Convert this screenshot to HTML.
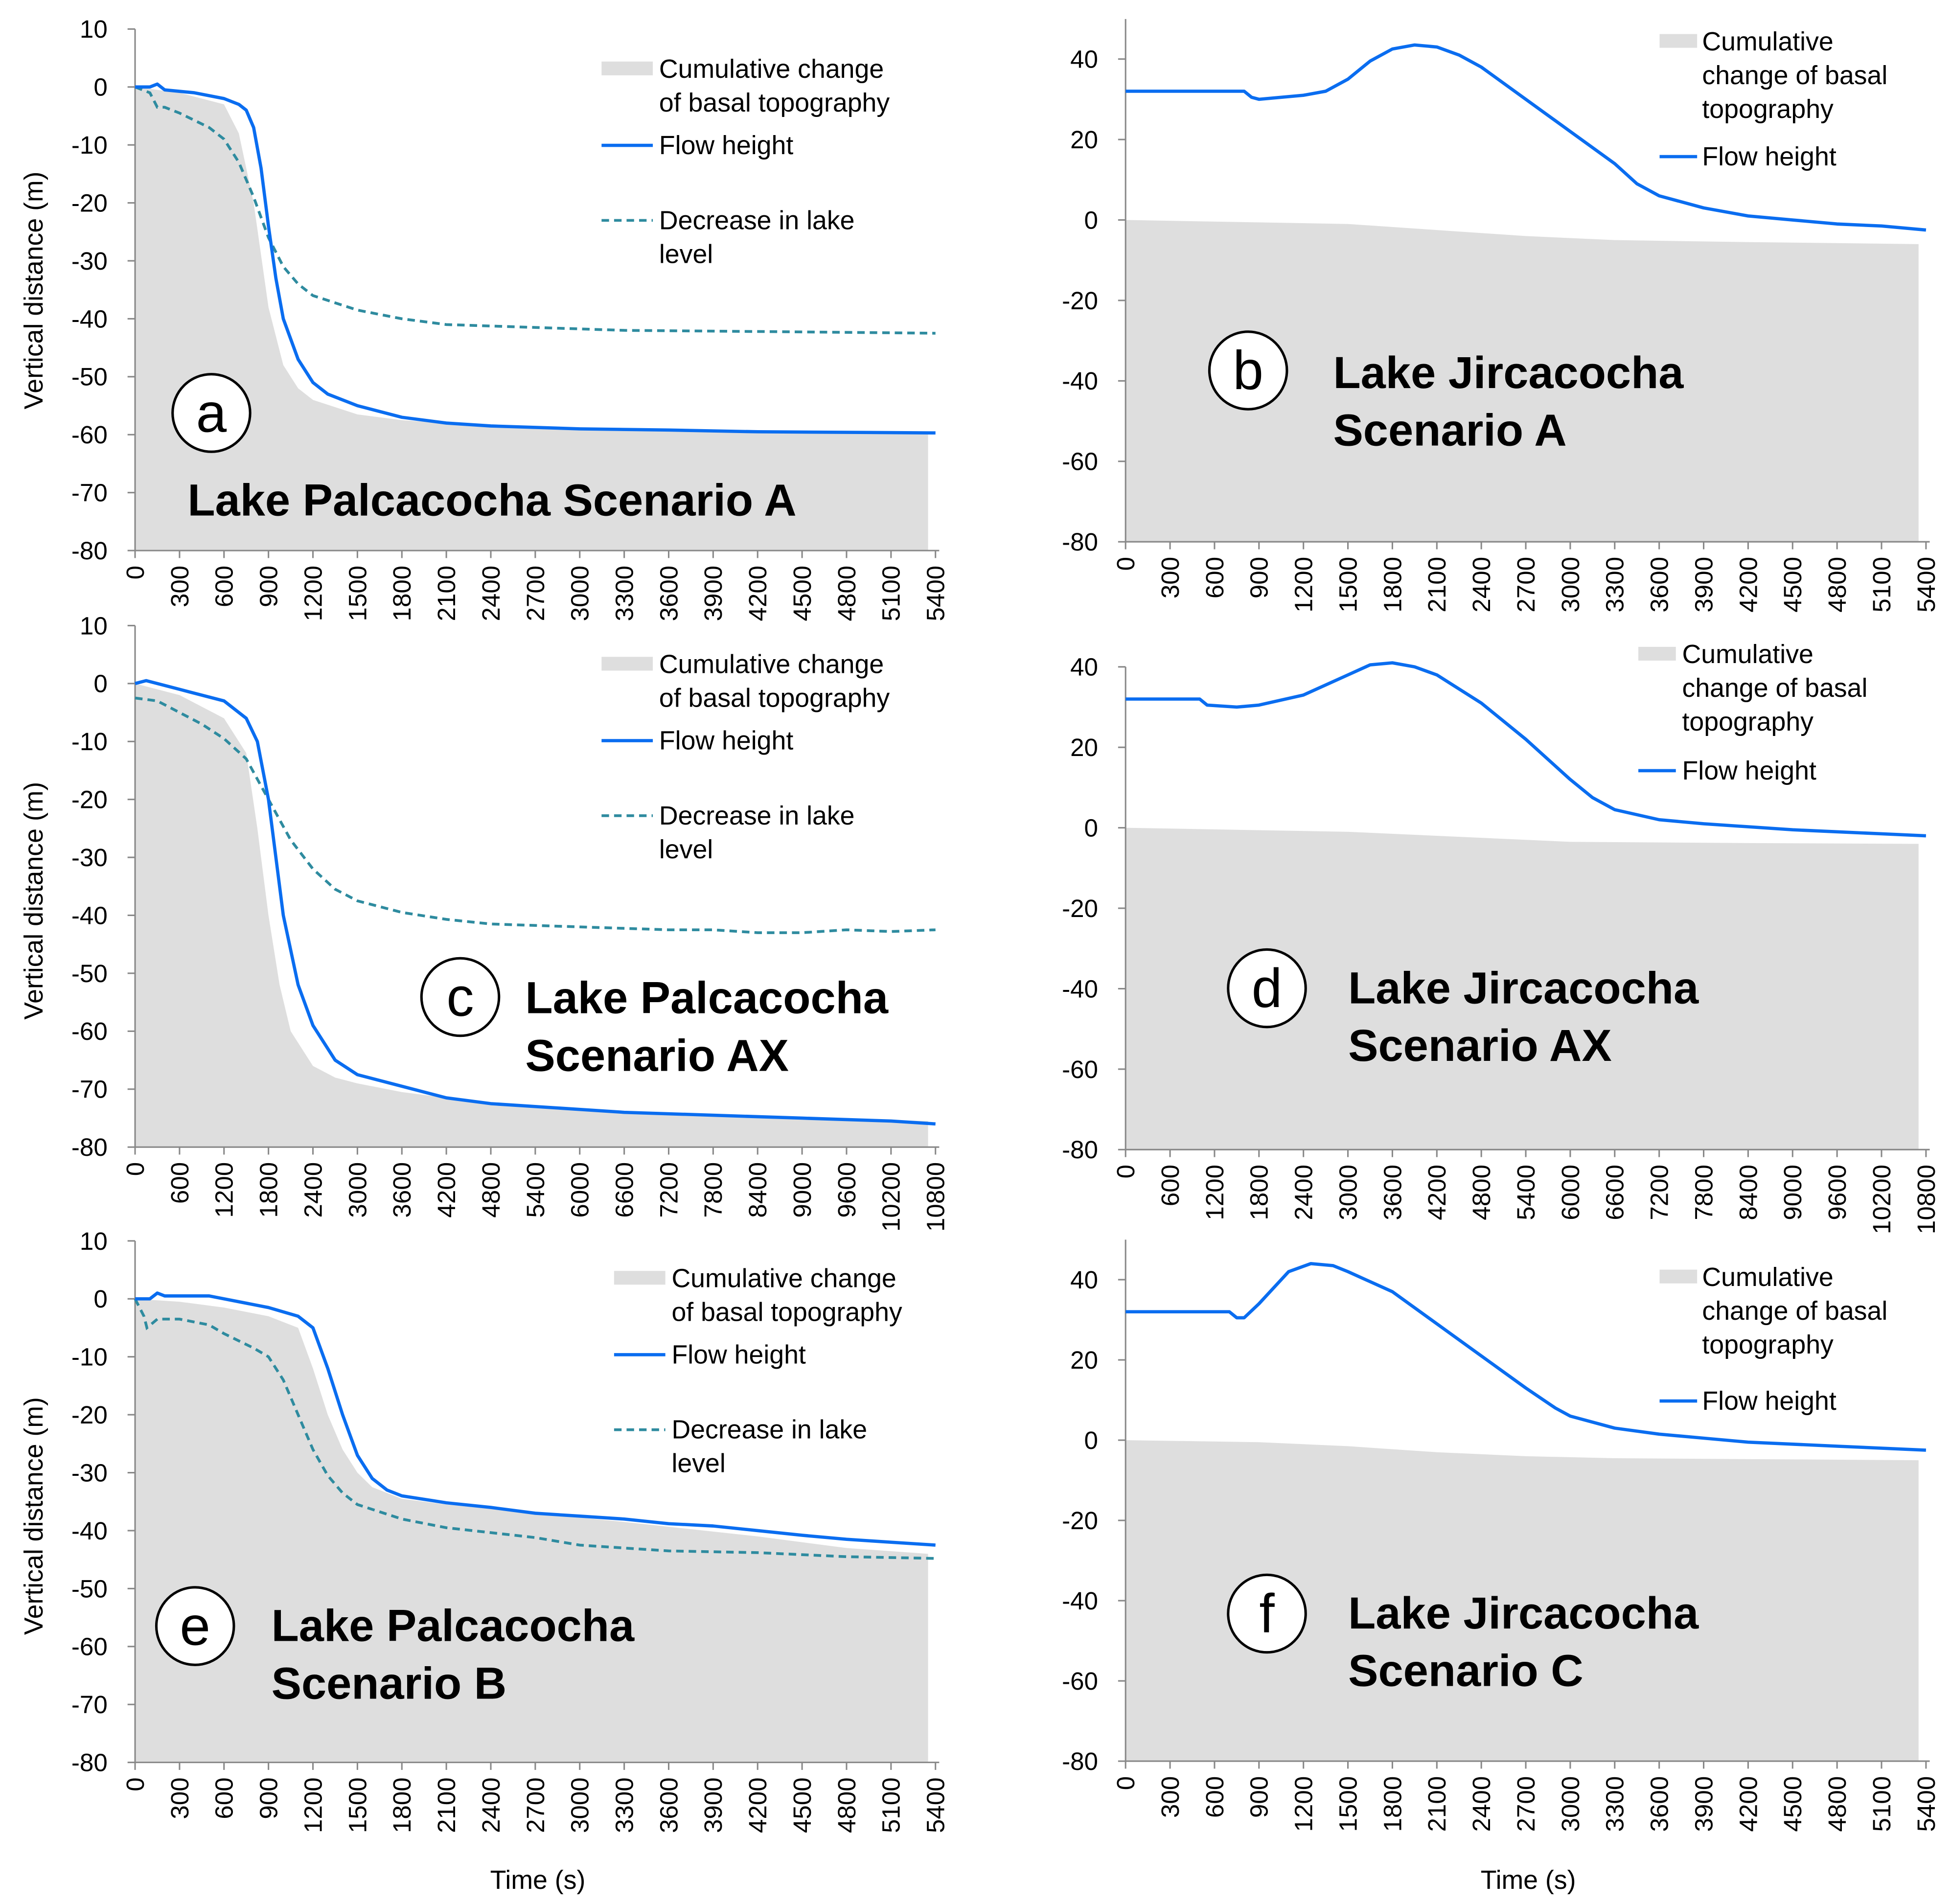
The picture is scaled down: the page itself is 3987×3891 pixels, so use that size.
<!DOCTYPE html>
<html><head><meta charset="utf-8"><style>
html,body{margin:0;padding:0;background:#fff;}
svg{display:block;}
text{font-family:"Liberation Sans",Arial,sans-serif;fill:#000;}
</style></head><body>
<svg id="fig" width="3987" height="3891" viewBox="0 0 1560 1522" xmlns="http://www.w3.org/2000/svg"></svg>
<script>
// ---- Data (time in s, values in m) ----
const aBasalT=[0,300,600,700,800,900,1000,1100,1200,1500,1800,2400,3000,4000,5350];
const aBasalV=[0,-1,-3,-8,-20,-38,-48,-52,-54,-56.5,-57.5,-58.5,-59,-59.5,-59.8];
const aFlowT=[0,100,150,200,400,600,700,750,800,850,900,950,1000,1100,1200,1300,1500,1800,2100,2400,3000,3600,4200,5400];
const aFlowV=[0,0,0.5,-0.5,-1,-2,-3,-4,-7,-14,-24,-33,-40,-47,-51,-53,-55,-57,-58,-58.5,-59,-59.2,-59.5,-59.7];
const aLakeT=[0,100,150,200,300,500,600,700,800,900,1000,1100,1200,1500,1800,2100,2700,3300,4200,5400];
const aLakeV=[0,-1,-3.5,-3.5,-4.5,-7,-9,-13,-19,-26,-31,-34,-36,-38.5,-40,-41,-41.5,-42,-42.2,-42.5];

const bBasalT=[0,1500,2100,2700,3300,4200,5350];
const bBasalV=[0,-1,-2.5,-4,-5,-5.5,-6];
const bFlowT=[0,800,850,900,1200,1350,1500,1650,1800,1950,2100,2250,2400,2700,3000,3300,3450,3600,3900,4200,4500,4800,5100,5400];
const bFlowV=[32,32,30.5,30,31,32,35,39.5,42.5,43.5,43,41,38,30,22,14,9,6,3,1,0,-1,-1.5,-2.5];

const cBasalT=[0,600,1200,1500,1650,1800,1950,2100,2400,2700,3000,3600,4800,6000,7200,9000,10700];
const cBasalV=[0,-2,-6,-12,-25,-40,-52,-60,-66,-68,-69,-70.5,-72.5,-73.5,-74.5,-75,-75.5];
const cFlowT=[0,150,600,1200,1500,1650,1800,1900,2000,2200,2400,2700,3000,3600,4200,4800,5400,6600,7800,9000,10200,10800];
const cFlowV=[0,0.5,-1,-3,-6,-10,-20,-30,-40,-52,-59,-65,-67.5,-69.5,-71.5,-72.5,-73,-74,-74.5,-75,-75.5,-76];
const cLakeT=[0,300,600,900,1200,1500,1800,2100,2400,2700,3000,3600,4200,4800,6000,7200,7800,8400,9000,9600,10200,10800];
const cLakeV=[-2.5,-3,-5,-7,-9.5,-13,-20,-27,-32,-35.5,-37.5,-39.5,-40.7,-41.5,-42,-42.5,-42.5,-43,-43,-42.5,-42.8,-42.5];

const dBasalT=[0,3000,4800,6000,8400,10700];
const dBasalV=[0,-1,-2.5,-3.5,-3.8,-4];
const dFlowT=[0,1000,1100,1500,1800,2400,3000,3300,3600,3900,4200,4800,5400,6000,6300,6600,7200,7800,9000,10200,10800];
const dFlowV=[32,32,30.5,30,30.5,33,38,40.5,41,40,38,31,22,12,7.5,4.5,2,1,-0.5,-1.5,-2];

const eBasalT=[0,300,600,900,1100,1200,1300,1400,1500,1600,1800,2100,2700,3300,4200,4800,5350];
const eBasalV=[0,-0.5,-1.5,-3,-5,-12,-20,-26,-30,-32.5,-34.5,-35.5,-37,-38.5,-41,-43,-44];
const eFlowT=[0,100,150,200,500,900,1100,1200,1300,1400,1500,1600,1700,1800,2100,2400,2700,3000,3300,3600,3900,4200,4500,4800,5100,5400];
const eFlowV=[0,0,1,0.5,0.5,-1.5,-3,-5,-12,-20,-27,-31,-33,-34,-35.2,-36,-37,-37.5,-38,-38.8,-39.2,-40,-40.8,-41.5,-42,-42.5];
const eLakeT=[0,60,80,150,300,500,600,800,900,1000,1100,1200,1300,1400,1500,1800,2100,2700,3000,3600,4200,4800,5400];
const eLakeV=[0,-3,-5,-3.5,-3.5,-4.5,-6,-8.5,-10,-14,-20,-26,-30.5,-33.5,-35.5,-38,-39.5,-41.2,-42.5,-43.5,-43.8,-44.5,-44.8];

const fBasalT=[0,900,1500,2100,2700,3300,5350];
const fBasalV=[0,-0.5,-1.5,-3,-4,-4.5,-5];
const fFlowT=[0,700,750,800,900,1000,1100,1250,1400,1500,1800,2100,2400,2700,2900,3000,3300,3600,3900,4200,4800,5400];
const fFlowV=[32,32,30.5,30.5,34,38,42,44,43.5,42,37,29,21,13,8,6,3,1.5,0.5,-0.5,-1.5,-2.5];

const yTicksLeft=[10,0,-10,-20,-30,-40,-50,-60,-70,-80];
const yTicksRight=[40,20,0,-20,-40,-60,-80];
const xTicks5400=[0,300,600,900,1200,1500,1800,2100,2400,2700,3000,3300,3600,3900,4200,4500,4800,5100,5400];
const xTicks10800=[0,600,1200,1800,2400,3000,3600,4200,4800,5400,6000,6600,7200,7800,8400,9000,9600,10200,10800];

const NS="http://www.w3.org/2000/svg";
const svg=document.getElementById('fig');
function mk(tag,attrs,parent){const e=document.createElementNS(NS,tag);for(const k in attrs)e.setAttribute(k,attrs[k]);(parent||svg).appendChild(e);return e;}

function panel(p){
  const g=mk('g',{});
  
  
  const sx=t=>p.x0+(t/p.xmax)*(p.x1-p.x0);
  const sy=v=>p.y0+(p.ymax-v)/(p.ymax-p.ymin)*(p.y1-p.y0);
  let d='M'+sx(p.bT[0])+','+sy(0);
  p.bT.forEach((t,i)=>{d+=' L'+sx(t)+','+sy(p.bV[i]);});
  d+=' L'+sx(p.bT[p.bT.length-1])+','+sy(p.ymin)+' L'+sx(p.bT[0])+','+sy(p.ymin)+'Z';
  const area=mk('path',{d:d,fill:'#dedede'},g);
  
  
  const ya=mk('line',{x1:p.x0,y1:p.y0-(p.ytop||0),x2:p.x0,y2:p.y1,stroke:'#888','stroke-width':1.2},g);
  
  
  const xa=mk('line',{x1:p.x0,y1:p.y1,x2:p.x1+3,y2:p.y1,stroke:'#888','stroke-width':1.2},g);
  
  
  p.yt.forEach(v=>{
    mk('line',{x1:p.x0-6,y1:sy(v),x2:p.x0,y2:sy(v),stroke:'#888','stroke-width':1.2},g);
    const t=mk('text',{x:p.x0-22,y:sy(v)+7,'text-anchor':'end','font-size':20},g);
    t.textContent=v;
    
    
  });
  p.xt.forEach(v=>{
    mk('line',{x1:sx(v),y1:p.y1,x2:sx(v),y2:p.y1+6,stroke:'#888','stroke-width':1.2},g);
    const t=mk('text',{x:0,y:0,'text-anchor':'end','font-size':20,transform:'translate('+(sx(v)+7)+','+(p.y1+12)+') rotate(-90)'},g);
    t.textContent=v;
    
    
  });
  if(p.lT){
    const pts=p.lT.map((t,i)=>sx(t)+','+sy(p.lV[i])).join(' ');
    const l=mk('polyline',{points:pts,fill:'none',stroke:'#2e8b9f','stroke-width':2.2,'stroke-dasharray':'6,4'},g);
    
    
  }
  const pts=p.fT.map((t,i)=>sx(t)+','+sy(p.fV[i])).join(' ');
  const f=mk('polyline',{points:pts,fill:'none',stroke:'#0a6df0','stroke-width':2.6,'stroke-linejoin':'round'},g);
  
  
  const L=p.leg;
  const r=mk('rect',{x:L.x,y:L.lines[0]-6,width:L.w,height:11,fill:'#dedede'},g);
  
  
  L.lines.forEach((yy,i)=>{const t=mk('text',{x:L.tx,y:yy+7,'font-size':21},g);t.textContent=L.txt[i];
    
    });
  mk('line',{x1:L.x,y1:L.fy,x2:L.x+L.w,y2:L.fy,stroke:'#0a6df0','stroke-width':2.6},g);
  const ft=mk('text',{x:L.tx,y:L.fy+7,'font-size':21},g);ft.textContent='Flow height';
  
  
  if(L.ly){
    mk('line',{x1:L.x,y1:L.ly,x2:L.x+L.w,y2:L.ly,stroke:'#2e8b9f','stroke-width':2.2,'stroke-dasharray':'6,4'},g);
    const a=mk('text',{x:L.tx,y:L.ly+7,'font-size':21},g);a.textContent='Decrease in lake';
    
    
    const b=mk('text',{x:L.tx,y:L.ly+34,'font-size':21},g);b.textContent='level';
    
    
  }
  const c=mk('circle',{cx:p.cx,cy:p.cy,r:31,fill:'#fff',stroke:'#000','stroke-width':2},g);
  
  
  const ct=mk('text',{x:p.cx,y:p.cy+15,'text-anchor':'middle','font-size':44},g);ct.textContent=p.id;
  
  
  p.title.forEach((s,i)=>{const t=mk('text',{x:p.tx,y:p.ty+i*46+12,'font-size':36,'font-weight':'bold'},g);t.textContent=s;
    
    });
}

const legL=(x0,y)=>({x:x0,w:41,tx:x0+46,lines:[y,y+27],txt:['Cumulative change','of basal topography'],fy:y+61,ly:y+121});
const legR=(x0,tx,y,fy)=>({x:x0,w:30,tx:tx,lines:[y,y+27,y+54],txt:['Cumulative','change of basal','topography'],fy:fy});

panel({id:'a',x0:108,x1:748,xmax:5400,y0:23,y1:440,ymax:10,ymin:-80,yt:yTicksLeft,xt:xTicks5400,
  bT:aBasalT,bV:aBasalV,fT:aFlowT,fV:aFlowV,lT:aLakeT,lV:aLakeV,leg:legL(481,55),cx:169,cy:330,
  title:['Lake Palcacocha  Scenario A'],tx:150,ty:400});
panel({id:'b',x0:900,x1:1540,xmax:5400,y0:47,y1:433,ymax:40,ymin:-80,ytop:32,yt:yTicksRight,xt:xTicks5400,
  bT:bBasalT,bV:bBasalV,fT:bFlowT,fV:bFlowV,leg:legR(1327,1361,33,125),cx:998,cy:296,
  title:['Lake Jircacocha','Scenario A'],tx:1066,ty:298});
panel({id:'c',x0:108,x1:748,xmax:10800,y0:500,y1:917,ymax:10,ymin:-80,yt:yTicksLeft,xt:xTicks10800,
  bT:cBasalT,bV:cBasalV,fT:cFlowT,fV:cFlowV,lT:cLakeT,lV:cLakeV,leg:legL(481,531),cx:368,cy:797,
  title:['Lake Palcacocha','Scenario AX'],tx:420,ty:798});
panel({id:'d',x0:900,x1:1540,xmax:10800,y0:533,y1:919,ymax:40,ymin:-80,ytop:0,yt:yTicksRight,xt:xTicks10800,
  bT:dBasalT,bV:dBasalV,fT:dFlowT,fV:dFlowV,leg:legR(1310,1345,523,616),cx:1013,cy:790,
  title:['Lake Jircacocha','Scenario AX'],tx:1078,ty:790});
panel({id:'e',x0:108,x1:748,xmax:5400,y0:992,y1:1409,ymax:10,ymin:-80,yt:yTicksLeft,xt:xTicks5400,
  bT:eBasalT,bV:eBasalV,fT:eFlowT,fV:eFlowV,lT:eLakeT,lV:eLakeV,leg:legL(491,1022),cx:156,cy:1300,
  title:['Lake Palcacocha','Scenario B'],tx:217,ty:1300});
panel({id:'f',x0:900,x1:1540,xmax:5400,y0:1023,y1:1408,ymax:40,ymin:-80,ytop:32,yt:yTicksRight,xt:xTicks5400,
  bT:fBasalT,bV:fBasalV,fT:fFlowT,fV:fFlowV,leg:legR(1327,1361,1021,1120),cx:1013,cy:1290,
  title:['Lake Jircacocha','Scenario C'],tx:1078,ty:1290});

[[27,232],[27,720],[27,1212]].forEach(([x,y])=>{
  const t=mk('text',{x:0,y:0,'text-anchor':'middle','font-size':21,transform:'translate('+(x+7)+','+y+') rotate(-90)'});
  t.textContent='Vertical distance (m)';
  
  
});
[[430,1510],[1222,1510]].forEach(([x,y])=>{
  const t=mk('text',{x:x,y:y,'text-anchor':'middle','font-size':21});
  t.textContent='Time (s)';
  
  
});
</script>
</body></html>
